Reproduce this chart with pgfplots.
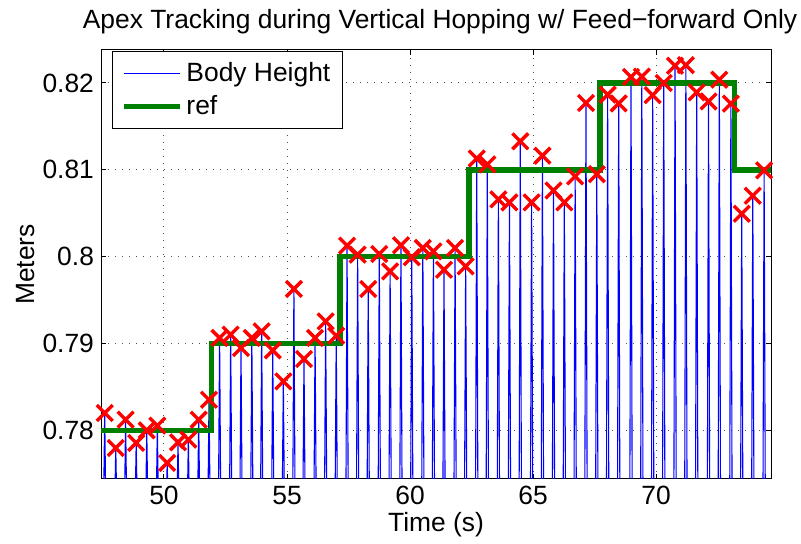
\documentclass[border=0pt]{standalone}
\usepackage{fontspec}
\setmainfont{Liberation Sans}
\usepackage{pgfplots}
\pgfplotsset{compat=1.18}
\usepackage{pgfplotstable}

% Apex heights (time in s, height in m), one per hop
\pgfplotstableread{
t v
47.59 0.78200
48.04 0.77797
48.44 0.78123
48.87 0.77855
49.30 0.78000
49.73 0.78054
50.13 0.77625
50.57 0.77862
50.99 0.77893
51.41 0.78123
51.83 0.78353
52.26 0.79064
52.71 0.79102
53.13 0.78949
53.57 0.79064
53.97 0.79140
54.42 0.78921
54.85 0.78564
55.28 0.79628
55.69 0.78822
56.14 0.79064
56.57 0.79255
57.00 0.79090
57.44 0.80127
57.87 0.80023
58.30 0.79628
58.75 0.80031
59.19 0.79831
59.63 0.80132
60.07 0.79994
60.52 0.80100
60.95 0.80061
61.38 0.79850
61.83 0.80100
62.26 0.79888
62.71 0.81131
63.14 0.81063
63.59 0.80660
64.04 0.80625
64.48 0.81328
64.94 0.80625
65.38 0.81163
65.83 0.80763
66.27 0.80625
66.71 0.80925
67.15 0.81770
67.59 0.80950
68.03 0.81865
68.48 0.81765
68.98 0.82069
69.42 0.82073
69.86 0.81860
70.31 0.82000
70.77 0.82199
71.21 0.82205
71.65 0.81892
72.13 0.81788
72.57 0.82038
73.04 0.81762
73.48 0.80495
73.93 0.80702
74.39 0.80994
}\apex

% Body height trace: touchdown - apex - touchdown for every hop
\pgfplotstableread{
t h
47.54 0.770
47.59 0.78200
47.64 0.770
47.99 0.770
48.04 0.77797
48.09 0.770
48.39 0.770
48.44 0.78123
48.49 0.770
48.82 0.770
48.87 0.77855
48.92 0.770
49.25 0.770
49.30 0.78000
49.35 0.770
49.68 0.770
49.73 0.78054
49.78 0.770
50.08 0.770
50.13 0.77625
50.18 0.770
50.52 0.770
50.57 0.77862
50.62 0.770
50.94 0.770
50.99 0.77893
51.04 0.770
51.36 0.770
51.41 0.78123
51.46 0.770
51.78 0.770
51.83 0.78353
51.88 0.770
52.21 0.770
52.26 0.79064
52.31 0.770
52.66 0.770
52.71 0.79102
52.76 0.770
53.08 0.770
53.13 0.78949
53.18 0.770
53.52 0.770
53.57 0.79064
53.62 0.770
53.92 0.770
53.97 0.79140
54.02 0.770
54.37 0.770
54.42 0.78921
54.47 0.770
54.80 0.770
54.85 0.78564
54.90 0.770
55.23 0.770
55.28 0.79628
55.33 0.770
55.64 0.770
55.69 0.78822
55.74 0.770
56.09 0.770
56.14 0.79064
56.19 0.770
56.52 0.770
56.57 0.79255
56.62 0.770
56.95 0.770
57.00 0.79090
57.05 0.770
57.39 0.770
57.44 0.80127
57.49 0.770
57.82 0.770
57.87 0.80023
57.92 0.770
58.25 0.770
58.30 0.79628
58.35 0.770
58.70 0.770
58.75 0.80031
58.80 0.770
59.14 0.770
59.19 0.79831
59.24 0.770
59.58 0.770
59.63 0.80132
59.68 0.770
60.02 0.770
60.07 0.79994
60.12 0.770
60.47 0.770
60.52 0.80100
60.57 0.770
60.90 0.770
60.95 0.80061
61.00 0.770
61.33 0.770
61.38 0.79850
61.43 0.770
61.78 0.770
61.83 0.80100
61.88 0.770
62.21 0.770
62.26 0.79888
62.31 0.770
62.66 0.770
62.71 0.81131
62.76 0.770
63.09 0.770
63.14 0.81063
63.19 0.770
63.54 0.770
63.59 0.80660
63.64 0.770
63.99 0.770
64.04 0.80625
64.09 0.770
64.43 0.770
64.48 0.81328
64.53 0.770
64.89 0.770
64.94 0.80625
64.99 0.770
65.33 0.770
65.38 0.81163
65.43 0.770
65.78 0.770
65.83 0.80763
65.88 0.770
66.22 0.770
66.27 0.80625
66.32 0.770
66.66 0.770
66.71 0.80925
66.76 0.770
67.10 0.770
67.15 0.81770
67.20 0.770
67.54 0.770
67.59 0.80950
67.64 0.770
67.98 0.770
68.03 0.81865
68.08 0.770
68.43 0.770
68.48 0.81765
68.53 0.770
68.93 0.770
68.98 0.82069
69.03 0.770
69.37 0.770
69.42 0.82073
69.47 0.770
69.81 0.770
69.86 0.81860
69.91 0.770
70.26 0.770
70.31 0.82000
70.36 0.770
70.72 0.770
70.77 0.82199
70.82 0.770
71.16 0.770
71.21 0.82205
71.26 0.770
71.60 0.770
71.65 0.81892
71.70 0.770
72.08 0.770
72.13 0.81788
72.18 0.770
72.52 0.770
72.57 0.82038
72.62 0.770
72.99 0.770
73.04 0.81762
73.09 0.770
73.43 0.770
73.48 0.80495
73.53 0.770
73.88 0.770
73.93 0.80702
73.98 0.770
74.34 0.770
74.39 0.80994
74.44 0.770
}\body

% Commanded apex height (piecewise constant)
\pgfplotstableread{
t r
47.00 0.78
51.94 0.79
57.15 0.80
62.40 0.81
67.72 0.82
73.18 0.81
75.00 0.81
}\reference

\definecolor{mgreen}{rgb}{0,0.5,0}

\begin{document}
\begin{tikzpicture}
\useasboundingbox (-50.5pt,-32.5pt) rectangle (350pt,239.5pt);
\begin{axis}[
  scale only axis,
  width=335pt, height=214.5pt,
  xmin=47.44, xmax=74.67,
  ymin=0.7744, ymax=0.8238,
  xtick={50,55,60,65,70},
  xticklabels={50,55,60,65,70},
  ytick={0.78,0.79,0.80,0.81,0.82},
  yticklabels={0.78,0.79,0.8,0.81,0.82},
  tick align=inside,
  major tick length=2.5pt,
  axis line style={line width=0.5pt},
  every tick/.style={black, line width=0.5pt},
  grid=major,
  grid style={black!70, line width=0.5pt, dash pattern=on 0.5pt off 3pt},
  font=\fontsize{13.2}{15.5}\selectfont,
  every axis title/.style={at={(axis description cs:0.506,1.065)}, anchor=center, inner sep=0pt},
  title={Apex Tracking during Vertical Hopping w/ Feed\textminus forward Only},
  xlabel={Time (s)},
  xlabel style={at={(axis description cs:0.5,-0.107)}, anchor=center, inner sep=0pt},
  ylabel={Meters},
  ylabel style={at={(axis description cs:-0.113,0.5)}, anchor=center, inner sep=0pt},
  legend style={
    at={(axis description cs:0.0164,0.9977)}, anchor=north west,
    draw=black, line width=0.5pt, fill=white,
    font=\fontsize{13.2}{15.5}\selectfont,
    row sep=1.5pt, inner xsep=4.3pt, inner ysep=3.5pt,
  },
  legend cell align=left,
  legend image code/.code={\draw[#1] (0pt,0pt) -- (28pt,0pt);},
]
\addplot[blue, line width=0.55pt] table[x=t, y=h] {\body};
\addlegendentry{Body Height}
\addplot[mgreen, line width=2.7pt, const plot mark left, line join=miter] table[x=t, y=r] {\reference};
\addlegendentry{ref}
\addplot[only marks, red, mark=x, mark size=5.6pt, mark options={line width=1.7pt}, forget plot] table[x=t, y=v] {\apex};
\end{axis}
\end{tikzpicture}
\end{document}
